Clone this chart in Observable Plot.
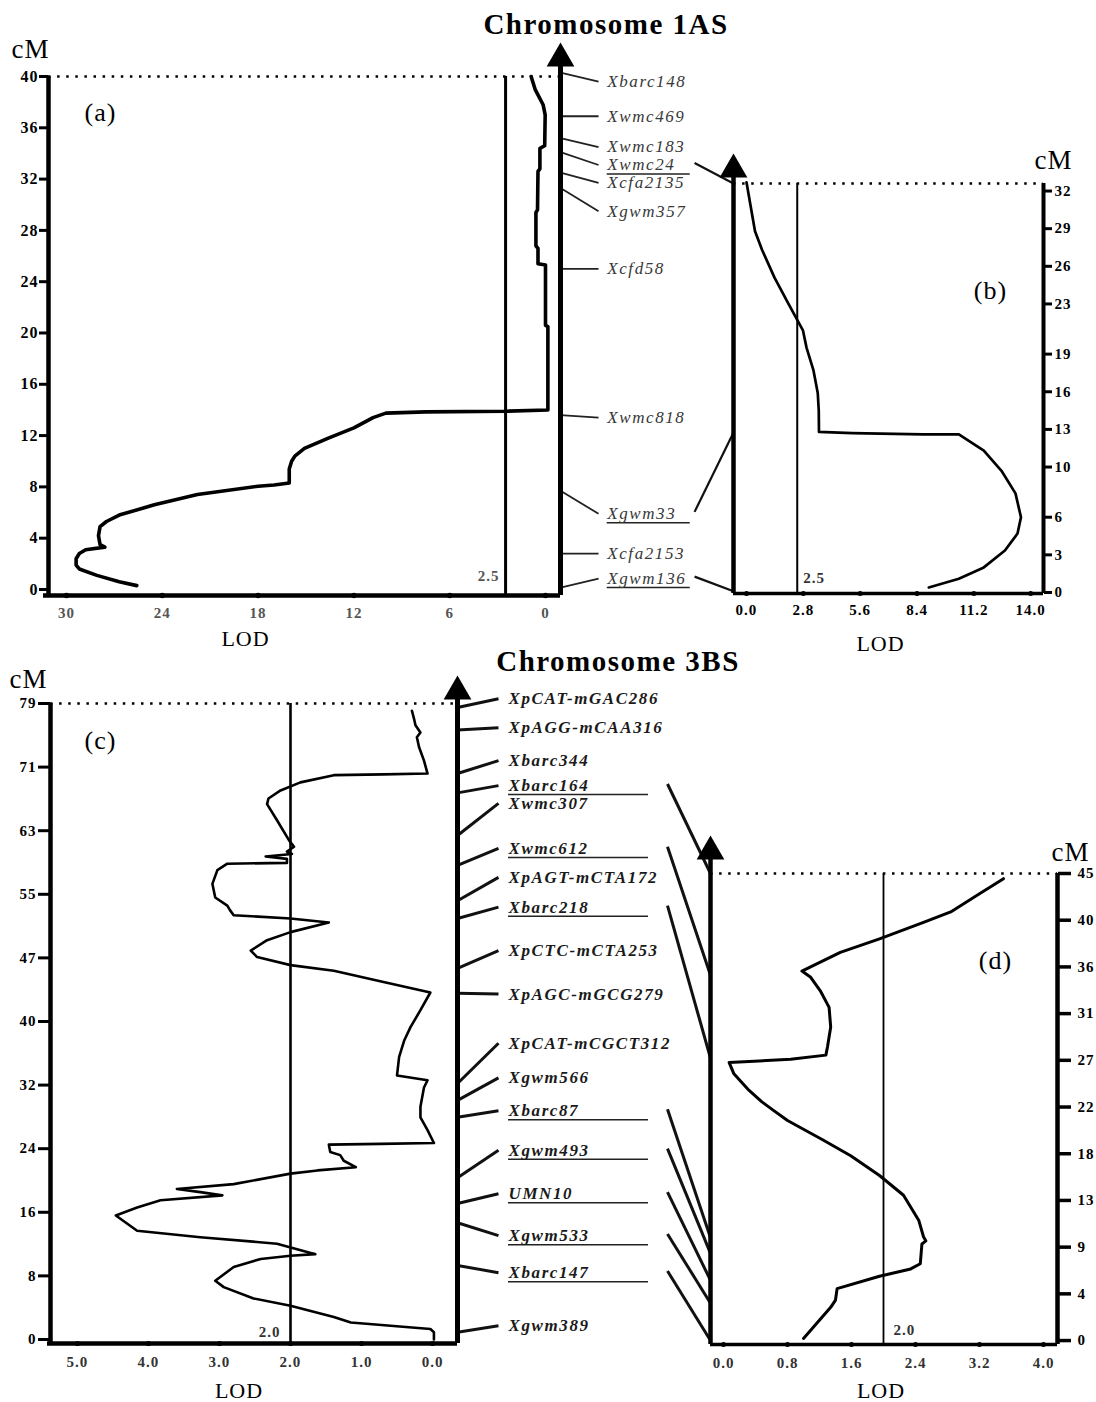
<!DOCTYPE html>
<html><head><meta charset="utf-8">
<script src="https://cdn.jsdelivr.net/npm/d3@7"></script>
<script src="https://cdn.jsdelivr.net/npm/@observablehq/plot@0.6"></script>
<style>
html,body{margin:0;padding:0;background:#fff;}
#page{position:relative;width:1096px;height:1402px;overflow:hidden;background:#fff;font-family:"Liberation Serif","Times New Roman",serif;}
#page svg{position:absolute;}
#page svg text{letter-spacing:1px;}
.title{position:absolute;font-weight:bold;font-size:29px;line-height:29px;letter-spacing:1.5px;white-space:nowrap;transform:translateX(-50%);color:#000;}
</style></head><body><div id="page"></div>
<script>
// ---------------- DATA ----------------
// Chromosome 1AS, panel (a): QTL curve (cM position, LOD)
const aCM  = [40.0,39.0,37.8,37.0,34.6,34.4,32.8,32.6,29.6,29.4,26.8,26.6,25.4,25.3,20.6,20.5,14.0,13.9,13.85,13.75,13.4,12.6,11.8,11.0,10.4,10.0,9.4,8.3,8.15,8.05,7.4,6.6,5.8,5.3,4.9,4.2,3.5,3.3,3.1,2.8,2.4,1.9,1.6,1.1,0.6,0.3];
const aLOD = [0.90,0.65,0.15,0.02,0.05,0.35,0.35,0.47,0.50,0.60,0.60,0.47,0.47,0.00,0.00,-0.15,-0.15,2.5,7.5,10.0,10.8,12.0,13.6,15.1,15.7,15.9,16.05,16.05,17.0,18.0,21.8,24.5,26.7,27.5,27.9,28.0,27.9,27.6,28.8,29.2,29.4,29.4,29.2,28.1,26.7,25.6];
// Chromosome 1AS, panel (b)
const bCM  = [32.7,31.2,28.8,27.3,25.1,23.0,20.9,19.5,17.7,15.9,14.5,12.8,12.7,12.6,12.6,11.3,9.7,7.9,6.0,4.7,3.35,2.0,1.1,0.4];
const bLOD = [0.0,0.16,0.42,0.77,1.38,2.07,2.78,2.96,3.30,3.51,3.56,3.57,5.2,8.7,10.46,11.69,12.56,13.25,13.52,13.35,12.73,11.69,10.46,8.98];
// Chromosome 3BS, panel (c)
const cCM  = [78.1,77.1,76.3,75.4,74.8,73.6,71.9,70.3,70.2,70.1,69.2,68.2,67.2,66.5,64.5,62.0,61.2,60.6,60.3,60.0,59.7,59.2,59.1,58.3,56.6,54.9,53.9,53.3,52.7,52.3,51.8,50.6,49.6,48.3,47.5,46.5,45.8,44.4,43.1,40.9,38.8,37.1,35.1,32.8,32.2,31.3,28.9,27.6,26.0,24.4,24.3,24.2,23.3,22.9,22.2,21.4,21.0,20.6,19.3,18.7,18.3,17.9,17.3,16.4,15.4,13.5,12.7,11.9,10.6,10.4,10.0,9.0,7.3,6.5,5.1,4.2,2.8,2.1,1.3,0.9,0.0];
const cLOD = [0.29,0.26,0.24,0.17,0.22,0.19,0.12,0.07,0.69,1.39,1.86,2.14,2.31,2.33,2.19,2.02,1.95,2.05,1.98,2.35,2.05,2.05,2.89,3.03,3.10,3.06,2.89,2.85,2.80,2.0,1.46,2.0,2.33,2.56,2.47,2.0,1.39,0.69,0.03,0.17,0.31,0.40,0.47,0.50,0.07,0.12,0.17,0.17,0.07,-0.02,0.73,1.46,1.44,1.30,1.25,1.08,1.62,2.0,2.80,3.60,3.27,2.96,3.83,4.16,4.46,4.16,3.27,2.19,1.65,2.0,2.42,2.80,3.06,2.94,2.52,2.0,1.39,1.15,0.03,-0.02,-0.02];
// Chromosome 3BS, panel (d)
const dCM  = [44.5,42.9,41.3,40.3,38.7,37.4,35.6,35.0,33.7,32.1,30.2,28.3,27.5,27.1,26.8,25.7,24.1,23.0,22.2,21.2,19.3,17.8,15.9,14.0,11.6,10.0,9.6,9.3,7.4,6.9,6.2,5.0,3.9,3.2,0.2];
const dLOD = [3.50,3.17,2.84,2.50,1.95,1.46,0.98,1.09,1.21,1.32,1.34,1.30,1.28,0.84,0.07,0.13,0.32,0.48,0.62,0.80,1.25,1.59,1.95,2.25,2.44,2.50,2.53,2.48,2.46,2.34,1.95,1.42,1.40,1.34,1.00];

// LOD thresholds
const thrA = 2.5, thrB = 2.5, thrC = 2.0, thrD = 2.0;

// Markers, chromosome 1AS (positions on the map of panel a, cM)
const m1Names = ["Xbarc148","Xwmc469","Xwmc183","Xwmc24","Xcfa2135","Xgwm357","Xcfd58","Xwmc818","Xgwm33","Xcfa2153","Xgwm136"];
const m1Pos   = [40.3,36.9,35.2,34.1,32.5,31.3,25.0,13.6,7.7,2.8,0.15];
const m1LabelPos = [39.6,36.9,34.5,33.1,31.7,29.5,25.0,13.4,5.9,2.8,0.85];
const m1Shared = ["Xwmc24","Xgwm33","Xgwm136"];      // underlined, linked to panel (b)
const m1SharedPosB = [32.6,12.75,0.1];                // their cM on panel (b)

// Markers, chromosome 3BS (positions on the map of panel c, cM)
const m2Names = ["XpCAT-mGAC286","XpAGG-mCAA316","Xbarc344","Xbarc164","Xwmc307","Xwmc612","XpAGT-mCTA172","Xbarc218","XpCTC-mCTA253","XpAGC-mGCG279","XpCAT-mCGCT312","Xgwm566","Xbarc87","Xgwm493","UMN10","Xgwm533","Xbarc147","Xgwm389"];
const m2Pos   = [78.5,75.7,70.3,67.9,62.6,58.9,54.5,52.3,46.1,43.0,31.8,29.7,27.6,20.1,16.9,14.5,9.2,0.9];
const m2LabelPos = [79.6,76.0,71.9,68.8,66.6,61.0,57.4,53.7,48.3,42.9,36.8,32.5,28.4,23.5,18.1,12.9,8.3,1.7];
const m2Shared = ["Xbarc164","Xwmc612","Xbarc218","Xbarc87","Xgwm493","UMN10","Xgwm533","Xbarc147"];
const m2SharedPosD = [45,35.2,27.2,9.9,8.4,5.8,3.6,0];

// Tick values and labels
const aYTicks = [0,4,8,12,16,20,24,28,32,36,40];
const aXTicks = [30,24,18,12,6,0];
const bYTicks = [0,3,6,10,13,16,19,23,26,29,32];
const bXTicks = [0,2.8,5.6,8.4,11.2,14.0];
const bXLabels = ["0.0","2.8","5.6","8.4","11.2","14.0"];
const cYTicks = [0,7.9,15.8,23.7,31.6,39.5,47.4,55.3,63.2,71.1,79];
const cYLabels = ["0","8","16","24","32","40","47","55","63","71","79"];
const cXTicks = [5,4,3,2,1,0];
const cXLabels = ["5.0","4.0","3.0","2.0","1.0","0.0"];
const dYTicks = [0,4.5,9,13.5,18,22.5,27,31.5,36,40.5,45];
const dYLabels = ["0","4","9","13","18","22","27","31","36","40","45"];
const dXTicks = [0,0.8,1.6,2.4,3.2,4.0];
const dXLabels = ["0.0","0.8","1.6","2.4","3.2","4.0"];

// ---------------- LAYOUT ----------------
const FONT = '"Liberation Serif","Times New Roman",serif';
const L = {
  A:  {left:0,   top:0,   width:575, height:660, mt:76, mb:65, ml:48, mr:15, x:[31.13,-0.94], y:[-0.47,40]},
  M1: {left:540, top:0,   width:200, height:660, mt:76, mb:65, ml:20, mr:7,  x:[0,1],          y:[-0.47,40]},
  B:  {left:700, top:140, width:396, height:530, mt:43, mb:77, ml:33, mr:53, x:[-0.64,14.63],  y:[-0.08,32.6]},
  C:  {left:0,   top:660, width:470, height:742, mt:43, mb:59, ml:50, mr:13, x:[5.38,-0.352],  y:[-0.5,79]},
  M2: {left:440, top:660, width:290, height:742, mt:43, mb:59, ml:17, mr:20, x:[0,1],          y:[-0.5,79]},
  D:  {left:690, top:820, width:406, height:582, mt:53, mb:58, ml:20, mr:39, x:[-0.1625,4.175],y:[-0.38,45]}
};
const M1X = {linkEnd:0.22, label:0.27, underEnd:0.75, bridge:0.775};
const M2X = {linkEnd:0.162, label:0.2016, underEnd:0.755, bridge:0.83};

const page = document.getElementById("page");
function base(l, hideAxes) {
  return {
    width:l.width, height:l.height,
    marginTop:l.mt, marginBottom:l.mb, marginLeft:l.ml, marginRight:l.mr,
    x: hideAxes ? {domain:l.x, axis:null} : {domain:l.x, label:null},
    y: hideAxes ? {domain:l.y, axis:null} : {domain:l.y, label:null},
    style:{fontFamily:FONT, background:"transparent", color:"#000"}
  };
}
function place(svg, l) {
  svg.style.left = l.left + "px";
  svg.style.top = l.top + "px";
  page.appendChild(svg);
  return svg;
}
function yScale(l) { return Plot.scale({y:{domain:l.y, range:[l.height - l.mb, l.mt]}}); }
const pts = (cm, lod) => cm.map((c, i) => ({cm:c, lod:lod[i]}));
const dotted = {strokeDasharray:"2.5,6.6", strokeWidth:2.6};
const tickBold = {fontSize:15, fontWeight:"bold", label:null};
const mid = {textAnchor:"middle", lineAnchor:"middle"};
function caption(txt, anchor, dx, dy, size) {
  return Plot.text([txt], {frameAnchor:anchor, dx, dy, fontSize:size, ...mid});
}

// ---------------- PANEL (a) ----------------
place(Plot.plot({...base(L.A), marks:[
  Plot.ruleY([L.A.y[1]], dotted),
  Plot.ruleX([thrA], {strokeWidth:3}),
  Plot.line(pts(aCM, aLOD), {x:"lod", y:"cm", strokeWidth:3.6, strokeLinejoin:"round", strokeLinecap:"round"}),
  Plot.ruleX([L.A.x[0]], {strokeWidth:4.5, insetBottom:-2}),
  Plot.ruleY([L.A.y[0]], {strokeWidth:4.5, insetLeft:-5}),
  Plot.dot(aXTicks, {x:d=>d, frameAnchor:"bottom", r:2.8, fill:"black"}),
  Plot.axisY({...tickBold, fontSize:16, ticks:aYTicks, tickSize:9, strokeWidth:3, tickPadding:1}),
  Plot.axisX({...tickBold, ticks:aXTicks, tickSize:0, tickPadding:12, color:"#555"}),
  Plot.text([String(thrA)], {x:()=>thrA, frameAnchor:"bottom", lineAnchor:"middle", dy:-19, dx:-6, textAnchor:"end", fontSize:15, fontWeight:"bold", fill:"#555"}),
  caption("cM", "top-left", -18, -27, 27),
  caption("(a)", "top-left", 52, 36, 26),
  caption("LOD", "bottom", -59, 43, 22)
]}), L.A);

// ---------------- MARKERS 1AS ----------------
const yM1 = yScale(L.M1), yB = yScale(L.B);
const m1 = m1Names.map((n, i) => ({name:n, pos:m1Pos[i], lab:m1LabelPos[i]}));
const m1Bridge = m1Shared.map((n, i) => ({
  lab: m1LabelPos[m1Names.indexOf(n)] + 0.15,
  target: yM1.invert(yB.apply(m1SharedPosB[i]) + L.B.top - L.M1.top)
}));
const svgM1 = place(Plot.plot({...base(L.M1, true), marks:[
  Plot.link(m1, {x1:()=>0, y1:"pos", x2:()=>M1X.linkEnd, y2:"lab", stroke:"#222", strokeWidth:1.8}),
  Plot.ruleY(m1.filter(d => m1Shared.includes(d.name)), {y:"lab", x1:()=>M1X.label, x2:()=>M1X.underEnd, dy:9, strokeWidth:1.4, stroke:"#222"}),
  Plot.text(m1, {x:()=>M1X.label, y:"lab", text:"name", textAnchor:"start", fontStyle:"italic", fontSize:17, fill:"#383838"}),
  Plot.link(m1Bridge, {x1:()=>M1X.bridge, y1:"lab", x2:()=>1, y2:"target", stroke:"#111", strokeWidth:2.2}),
  Plot.ruleX([0], {strokeWidth:5, insetTop:-24}),
  Plot.dot([0], {x:()=>0, frameAnchor:"top", symbol:"triangle", r:10.3, fill:"black", stroke:"none", dy:-18})
]}), L.M1);
svgM1.querySelectorAll("text").forEach(t => t.style.letterSpacing = "1.6px");

// ---------------- PANEL (b) ----------------
place(Plot.plot({...base(L.B), marks:[
  Plot.ruleY([L.B.y[1]], dotted),
  Plot.ruleX([thrB], {strokeWidth:2}),
  Plot.line(pts(bCM, bLOD), {x:"lod", y:"cm", strokeWidth:2.7, strokeLinejoin:"round", strokeLinecap:"round"}),
  Plot.ruleX([L.B.x[0]], {strokeWidth:4.5, insetTop:-18}),
  Plot.dot([0], {frameAnchor:"top-left", symbol:"triangle", r:10.3, fill:"black", stroke:"none", dy:-14}),
  Plot.ruleX([L.B.x[1]], {strokeWidth:4}),
  Plot.ruleY([L.B.y[0]], {strokeWidth:3.5}),
  Plot.dot(bXTicks, {x:d=>d, frameAnchor:"bottom", r:2.5, fill:"black"}),
  Plot.axisY({...tickBold, anchor:"right", ticks:bYTicks, tickSize:8, strokeWidth:3, tickPadding:3}),
  Plot.axisX({...tickBold, ticks:bXTicks, tickFormat:d => bXLabels[bXTicks.indexOf(d)], tickSize:0, tickPadding:11}),
  Plot.text([thrB.toFixed(1)], {x:()=>thrB, frameAnchor:"bottom", lineAnchor:"middle", dy:-15, dx:6, textAnchor:"start", fontSize:15, fontWeight:"bold", fill:"#333"}),
  caption("cM", "top-right", 10, -23, 27),
  caption("(b)", "top-right", -53, 107, 26),
  caption("LOD", "bottom", -8, 50, 22)
]}), L.B);

// ---------------- PANEL (c) ----------------
place(Plot.plot({...base(L.C), marks:[
  Plot.ruleY([L.C.y[1]], dotted),
  Plot.ruleX([thrC], {strokeWidth:2.6}),
  Plot.line(pts(cCM, cLOD), {x:"lod", y:"cm", strokeWidth:2.6, strokeLinejoin:"round", strokeLinecap:"round"}),
  Plot.ruleX([L.C.x[0]], {strokeWidth:4.5, insetBottom:-2}),
  Plot.ruleY([L.C.y[0]], {strokeWidth:4.5, insetLeft:-3}),
  Plot.dot(cXTicks, {x:d=>d, frameAnchor:"bottom", r:2.6, fill:"black"}),
  Plot.axisY({...tickBold, ticks:cYTicks, tickFormat:d => cYLabels[cYTicks.indexOf(d)], tickSize:12, strokeWidth:3, tickPadding:2}),
  Plot.axisX({...tickBold, ticks:cXTicks, tickFormat:d => cXLabels[cXTicks.indexOf(d)], tickSize:0, tickPadding:13, color:"#333"}),
  Plot.text([thrC.toFixed(1)], {x:()=>thrC, frameAnchor:"bottom", lineAnchor:"middle", dy:-11, dx:-10, textAnchor:"end", fontSize:15, fontWeight:"bold", fill:"#333"}),
  caption("cM", "top-left", -22, -24, 27),
  caption("(c)", "top-left", 50, 37, 26),
  caption("LOD", "bottom", -15, 47, 22)
]}), L.C);

// ---------------- MARKERS 3BS ----------------
const yM2 = yScale(L.M2), yD = yScale(L.D);
const m2 = m2Names.map((n, i) => ({name:n, pos:m2Pos[i], lab:m2LabelPos[i]}));
const m2Bridge = m2Shared.map((n, i) => ({
  lab: m2LabelPos[m2Names.indexOf(n)] + 0.2,
  target: yM2.invert(yD.apply(m2SharedPosD[i]) + L.D.top - L.M2.top)
}));
const svgM2 = place(Plot.plot({...base(L.M2, true), marks:[
  Plot.link(m2, {x1:()=>0, y1:"pos", x2:()=>M2X.linkEnd, y2:"lab", stroke:"#111", strokeWidth:3}),
  Plot.ruleY(m2.filter(d => m2Shared.includes(d.name)), {y:"lab", x1:()=>M2X.label, x2:()=>M2X.underEnd, dy:9, strokeWidth:1.5, stroke:"#222"}),
  Plot.text(m2, {x:()=>M2X.label, y:"lab", text:"name", textAnchor:"start", fontStyle:"italic", fontWeight:"bold", fontSize:17, fill:"#1a1a1a"}),
  Plot.link(m2Bridge, {x1:()=>M2X.bridge, y1:"lab", x2:()=>1, y2:"target", stroke:"#111", strokeWidth:3}),
  Plot.ruleX([0], {strokeWidth:5, insetTop:-14}),
  Plot.dot([0], {x:()=>0, frameAnchor:"top", symbol:"triangle", r:10.3, fill:"black", stroke:"none", dy:-12})
]}), L.M2);
svgM2.querySelectorAll("text").forEach(t => t.style.letterSpacing = "1.6px");

// ---------------- PANEL (d) ----------------
place(Plot.plot({...base(L.D), marks:[
  Plot.ruleY([L.D.y[1]], dotted),
  Plot.ruleX([thrD], {strokeWidth:1.8}),
  Plot.line(pts(dCM, dLOD), {x:"lod", y:"cm", strokeWidth:3, strokeLinejoin:"round", strokeLinecap:"round"}),
  Plot.ruleX([L.D.x[0]], {strokeWidth:4.5, insetTop:-26}),
  Plot.dot([0], {frameAnchor:"top-left", symbol:"triangle", r:10.3, fill:"black", stroke:"none", dy:-22}),
  Plot.ruleX([L.D.x[1]], {strokeWidth:4.5}),
  Plot.ruleY([L.D.y[0]], {strokeWidth:3.5}),
  Plot.dot(dXTicks, {x:d=>d, frameAnchor:"bottom", r:2.5, fill:"black"}),
  Plot.axisY({...tickBold, anchor:"right", ticks:dYTicks, tickFormat:d => dYLabels[dYTicks.indexOf(d)], tickSize:13, strokeWidth:3.5, tickPadding:7}),
  Plot.axisX({...tickBold, ticks:dXTicks, tickFormat:d => dXLabels[dXTicks.indexOf(d)], tickSize:0, tickPadding:13, color:"#333"}),
  Plot.text([thrD.toFixed(1)], {x:()=>thrD, frameAnchor:"bottom", lineAnchor:"middle", dy:-14, dx:10, textAnchor:"start", fontSize:15, fontWeight:"bold", fill:"#333"}),
  caption("cM", "top-right", 13, -21, 27),
  caption("(d)", "top-right", -62, 87, 26),
  caption("LOD", "bottom", -3, 46, 22)
]}), L.D);

// ---------------- TITLES ----------------
const titles = [["Chromosome 1AS", 606, 10], ["Chromosome 3BS", 618, 647]];
for (const [t, x, y] of titles) {
  const div = document.createElement("div");
  div.className = "title";
  div.textContent = t;
  div.style.left = x + "px";
  div.style.top = y + "px";
  page.appendChild(div);
}
</script></body></html>
